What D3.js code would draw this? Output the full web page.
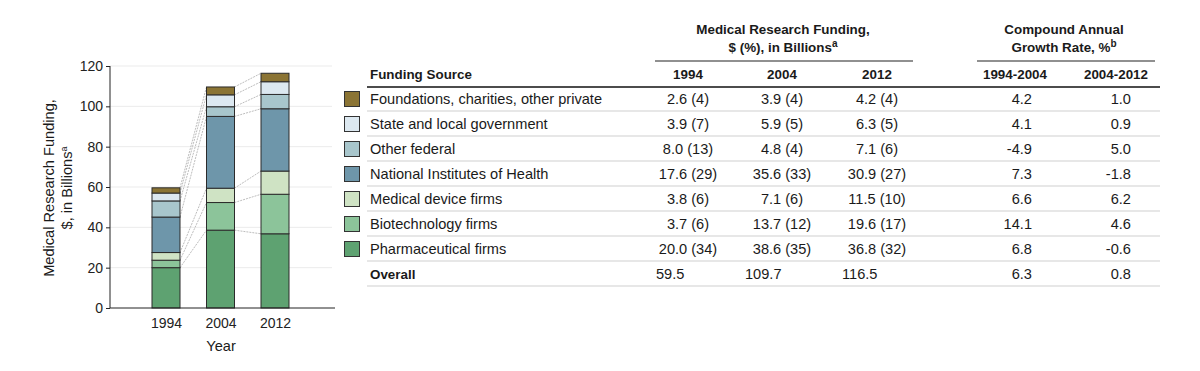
<!DOCTYPE html>
<html lang="en">
<head>
  <meta charset="UTF-8" />
  <title>Medical Research Funding</title>
  <script src="https://d3js.org/d3.v7.min.js"></script>
  <style>
    body { margin: 0; background: #fff; }
    svg { display: block; font-family: "Liberation Sans", Arial, sans-serif; }
    .tick text { font-size: 14px; fill: #222; }
    .tbl { font-size: 14.6px; fill: #1a1a1a; }
    .hdr { font-size: 13.4px; font-weight: bold; fill: #1a1a1a; }
  </style>
</head>
<body>
  <svg width="1200" height="371"></svg>

  <script>
    // data, listed top to bottom as in the table
    const sources = [
      "Foundations, charities, other private",
      "State and local government",
      "Other federal",
      "National Institutes of Health",
      "Medical device firms",
      "Biotechnology firms",
      "Pharmaceutical firms"
    ];
    const colors = ["#8b7434", "#dce8f0", "#a8c6cc", "#6e96aa", "#cfe3c4", "#8cc49a", "#5ea271"];
    const years = ["1994", "2004", "2012"];
    const funding1994 = [2.6, 3.9, 8.0, 17.6, 3.8, 3.7, 20.0];
    const funding2004 = [3.9, 5.9, 4.8, 35.6, 7.1, 13.7, 38.6];
    const funding2012 = [4.2, 6.3, 7.1, 30.9, 11.5, 19.6, 36.8];
    const pct1994 = [4, 7, 13, 29, 6, 6, 34];
    const pct2004 = [4, 5, 4, 33, 6, 12, 35];
    const pct2012 = [4, 5, 6, 27, 10, 17, 32];
    const cagr9404 = [4.2, 4.1, -4.9, 7.3, 6.6, 14.1, 6.8];
    const cagr0412 = [1.0, 0.9, 5.0, -1.8, 6.2, 4.6, -0.6];
    const overall = [59.5, 109.7, 116.5];
    const overallCagr = [6.3, 0.8];
    const yTicks = [0, 20, 40, 60, 80, 100, 120];

    const svg = d3.select("svg");
    const fundingByYear = [funding1994, funding2004, funding2012];
    const pctByYear = [pct1994, pct2004, pct2012];

    // ---- stacked bar chart ----
    const barW = 28;
    const x = d3.scalePoint().domain(years).range([166, 275]);
    const y = d3.scaleLinear().domain([0, 120]).range([308, 66]);

    // rows for d3.stack: one per year, keyed by source
    const rows = years.map((yr, i) => {
      const r = { year: yr };
      sources.forEach((s, j) => r[s] = fundingByYear[i][j]);
      return r;
    });
    const stackOrder = sources.slice().reverse(); // pharma at bottom
    const series = d3.stack().keys(stackOrder)(rows);
    const color = d3.scaleOrdinal().domain(sources).range(colors);

    // grid
    svg.append("g")
      .selectAll("line")
      .data(yTicks.slice(1))
      .join("line")
      .attr("x1", 110).attr("x2", 332)
      .attr("y1", d => y(d)).attr("y2", d => y(d))
      .attr("stroke", "#ebebeb");

    // connectors between bars
    const conn = svg.append("g");
    series.forEach(s => {
      for (let i = 0; i < years.length - 1; i++) {
        conn.append("line")
          .attr("x1", x(years[i]) + barW / 2)
          .attr("x2", x(years[i + 1]) - barW / 2)
          .attr("y1", y(s[i][1]))
          .attr("y2", y(s[i + 1][1]))
          .attr("stroke", "#b5b5b5")
          .attr("stroke-width", 0.9)
          .attr("stroke-dasharray", "2,1");
      }
    });

    svg.append("g")
      .selectAll("g")
      .data(series)
      .join("g")
      .attr("fill", d => color(d.key))
      .selectAll("rect")
      .data(d => d)
      .join("rect")
      .attr("x", d => x(d.data.year) - barW / 2)
      .attr("width", barW)
      .attr("y", d => y(d[1]))
      .attr("height", d => y(d[0]) - y(d[1]))
      .attr("stroke", "#2b2b2b")
      .attr("stroke-width", 1);

    // axes
    const yAxis = svg.append("g")
      .attr("transform", "translate(110,0)")
      .call(d3.axisLeft(y).tickValues(yTicks).tickSize(4).tickPadding(3));
    yAxis.select(".domain").attr("d", `M0,${y(120)}V${y(0)}`).attr("stroke", "#222");
    yAxis.selectAll(".tick line").attr("stroke", "#222");

    const xAxis = svg.append("g")
      .attr("transform", `translate(0,${y(0)})`)
      .call(d3.axisBottom(x).tickSize(0).tickPadding(10));
    xAxis.select(".domain").attr("d", "M110,0H335").attr("stroke", "#222");

    svg.append("text")
      .attr("x", 221).attr("y", 351)
      .attr("text-anchor", "middle")
      .attr("class", "tbl")
      .text("Year");

    const yTitle = svg.append("text")
      .attr("transform", "translate(54,188) rotate(-90)")
      .attr("text-anchor", "middle")
      .attr("class", "tbl");
    yTitle.append("tspan").attr("x", 0).attr("dy", 0).text("Medical Research Funding,");
    yTitle.append("tspan").attr("x", 0).attr("dy", 18).text("$, in Billions");
    yTitle.append("tspan").attr("baseline-shift", "super").style("font-size", "9px").text("a");

    // ---- table ----
    const rowY = d3.scaleLinear().domain([0, 1]).range([104, 129]); // baseline of row i
    const colC = [688, 782, 877];
    const colOverall = [656, 745, 842];
    const cagrEnd = [1032, 1131];
    const cagrHead = [1015, 1116];
    const tableL = 367, tableR = 1160;

    // group headers
    const h1 = svg.append("text").attr("class", "hdr").attr("text-anchor", "middle")
      .attr("x", 783).attr("y", 34);
    h1.append("tspan").attr("x", 783).text("Medical Research Funding,");
    h1.append("tspan").attr("x", 783).attr("dy", 18).text("$ (%), in Billions");
    h1.append("tspan").attr("baseline-shift", "super").style("font-size", "10px").text("a");

    const h2 = svg.append("text").attr("class", "hdr").attr("text-anchor", "middle")
      .attr("x", 1064).attr("y", 34);
    h2.append("tspan").attr("x", 1064).text("Compound Annual");
    h2.append("tspan").attr("x", 1064).attr("dy", 18).text("Growth Rate, %");
    h2.append("tspan").attr("baseline-shift", "super").style("font-size", "10px").text("b");

    svg.append("line").attr("x1", 655).attr("x2", 913).attr("y1", 61).attr("y2", 61)
      .attr("stroke", "#222").attr("stroke-width", 1.2);
    svg.append("line").attr("x1", 977).attr("x2", 1155).attr("y1", 61).attr("y2", 61)
      .attr("stroke", "#222").attr("stroke-width", 1.2);

    // column headers
    const headY = rowY(-1);
    svg.append("text").attr("class", "hdr").attr("x", 370).attr("y", headY).text("Funding Source");
    years.forEach((yr, i) => svg.append("text").attr("class", "hdr").attr("text-anchor", "middle")
      .attr("x", colC[i]).attr("y", headY).text(yr));
    ["1994-2004", "2004-2012"].forEach((t, i) => svg.append("text").attr("class", "hdr")
      .attr("text-anchor", "middle").attr("x", cagrHead[i]).attr("y", headY).text(t));

    svg.append("line").attr("x1", tableL).attr("x2", tableR)
      .attr("y1", rowY(-1) + 8).attr("y2", rowY(-1) + 8)
      .attr("stroke", "#111").attr("stroke-width", 1.5);

    // body rows
    sources.forEach((s, i) => {
      const by = rowY(i);
      svg.append("rect")
        .attr("x", 344.5).attr("y", by - 12.5)
        .attr("width", 15).attr("height", 15)
        .attr("fill", colors[i]).attr("stroke", "#333");
      svg.append("text").attr("class", "tbl").attr("x", 370).attr("y", by).text(s);
      years.forEach((yr, k) => svg.append("text").attr("class", "tbl")
        .attr("text-anchor", "middle").attr("x", colC[k]).attr("y", by)
        .text(`${fundingByYear[k][i].toFixed(1)} (${pctByYear[k][i]})`));
      [cagr9404, cagr0412].forEach((arr, k) => svg.append("text").attr("class", "tbl")
        .attr("text-anchor", "end").attr("x", cagrEnd[k]).attr("y", by)
        .text(arr[i].toFixed(1)));
      svg.append("line").attr("x1", tableL).attr("x2", tableR)
        .attr("y1", by + 7).attr("y2", by + 7)
        .attr("stroke", "#cfcfcf").attr("stroke-width", 1.2);
    });

    // overall row
    const oy = rowY(sources.length);
    svg.append("text").attr("class", "hdr").attr("x", 370).attr("y", oy).text("Overall");
    overall.forEach((v, k) => svg.append("text").attr("class", "tbl")
      .attr("x", colOverall[k]).attr("y", oy).text(v.toFixed(1)));
    overallCagr.forEach((v, k) => svg.append("text").attr("class", "tbl")
      .attr("text-anchor", "end").attr("x", cagrEnd[k]).attr("y", oy).text(v.toFixed(1)));
    svg.append("line").attr("x1", tableL).attr("x2", tableR)
      .attr("y1", oy + 7).attr("y2", oy + 7)
      .attr("stroke", "#cfcfcf").attr("stroke-width", 1.2);
  </script>
</body>
</html>
